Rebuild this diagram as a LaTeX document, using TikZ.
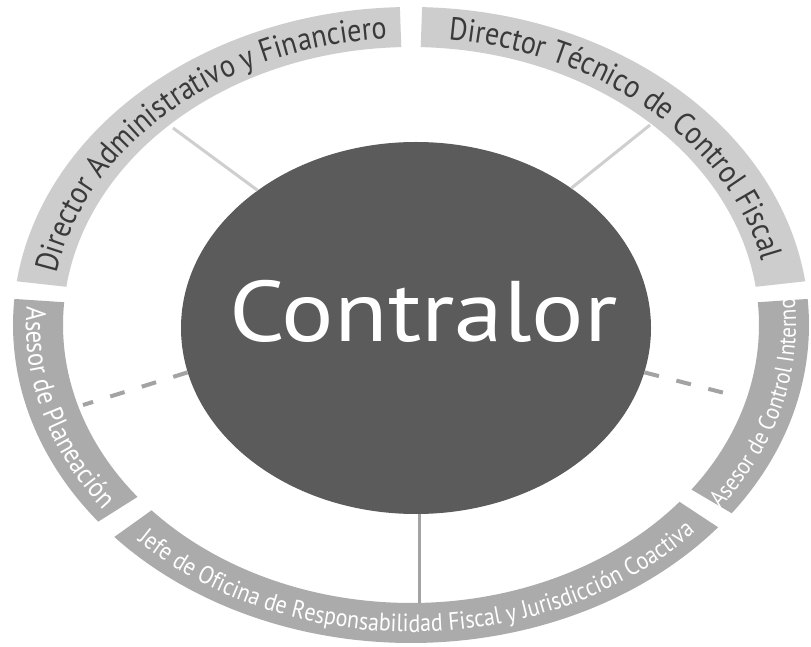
\documentclass[tikz,border=0pt]{standalone}
\usepackage{fontspec}
\setmainfont{PT Sans}
\newfontfamily\ringfont[FakeStretch=0.88]{PT Sans}
\usetikzlibrary{calc,decorations.text,shapes.geometric}
\definecolor{bandlight}{HTML}{CDCDCD}
\definecolor{banddark}{HTML}{ABABAB}
\definecolor{core}{HTML}{5B5B5B}
\definecolor{toptext}{HTML}{3A3A3A}
\definecolor{linelight}{HTML}{CFCFCF}
\definecolor{linedark}{HTML}{A3A3A3}
\newcommand\ringseg[3]{%
  \fill[#1,shift={(411,321)}] (#2:398 and 318) arc[start angle=#2, end angle=#3, x radius=398, y radius=318]
    -- (#3:348 and 278) arc[start angle=#3, end angle=#2, x radius=348, y radius=278] -- cycle;}
\tikzset{
  solidlink/.style={line width=3pt, draw=linelight},
  bottomlink/.style={line width=3pt, draw=linedark},
  dashlink/.style={line width=4pt, draw=linedark, dash pattern=on 15pt off 18pt},
}
\begin{document}
\begin{tikzpicture}[x=1pt,y=1pt]
\useasboundingbox (0,0) rectangle (811,646);
\fill[white] (0,0) rectangle (811,646);
% ring segments
\ringseg{bandlight}{91.6}{172.1}
\ringseg{bandlight}{7.9}{88.4}
\ringseg{banddark}{-36.3}{4.7}
\ringseg{banddark}{221.8}{320.5}
\ringseg{banddark}{175.3}{218.2}
% ring texts
\begin{scope}[shift={(411,321)}]
\path[decorate, decoration={text along path, text align=center,
  text={|\ringfont\fontsize{32}{34}\selectfont\color{toptext}|Director Administrativo y Financiero}}]
  (172:360 and 287) arc[start angle=172, end angle=92, x radius=360, y radius=287];
\path[decorate, decoration={text along path, text align=center,
  text={|\ringfont\fontsize{32}{34}\selectfont\color{toptext}|Director Técnico de Control Fiscal}}]
  (88:360 and 287) arc[start angle=88, end angle=8, x radius=360, y radius=287];
\path[decorate, decoration={text along path, text align=center,
  text={|\ringfont\fontsize{28}{30}\selectfont\color{white}|Asesor de Planeación}}]
  (175.3:385 and 307) arc[start angle=175.3, end angle=218.2, x radius=385, y radius=307];
\path[decorate, decoration={text along path, text align=center,
  text={|\ringfont\fontsize{25}{27}\selectfont\color{white}|Jefe de Oficina de Responsabilidad Fiscal y Jurisdicción Coactiva}}]
  (221.8:385 and 307) arc[start angle=221.8, end angle=320.5, x radius=385, y radius=307];
\path[decorate, decoration={text along path, text align=center,
  text={|\ringfont\fontsize{24}{26}\selectfont\color{white}|Asesor de Control Interno}}]
  (-36.3:385 and 307) arc[start angle=-36.3, end angle=4.7, x radius=385, y radius=307];
\end{scope}
% core
\node[ellipse, fill=core, minimum width=470pt, minimum height=372pt, inner sep=0pt] (c) at (416,318) {};
\node[anchor=base, text=white, font=\fontsize{86}{86}\selectfont, inner sep=0pt] (ct) at (423.5,304) {\scalebox{1.14}[1]{Contralor}};
% connector ends
\coordinate (tl) at (173,518);
\coordinate (tr) at (650,521);
\coordinate (bot) at (420,43);
\coordinate (lft) at (83,241);
\coordinate (rgt) at (740,249);
\draw[solidlink] (c.139.7) -- (tl);
\draw[solidlink] (c.42) -- (tr);
\draw[bottomlink] (c.-89) -- (c.-89 |- bot);
\draw[dashlink] (c.191.5) -- (lft);
\draw[dashlink] (c.-11.2) -- (rgt);
\end{tikzpicture}
\end{document}
